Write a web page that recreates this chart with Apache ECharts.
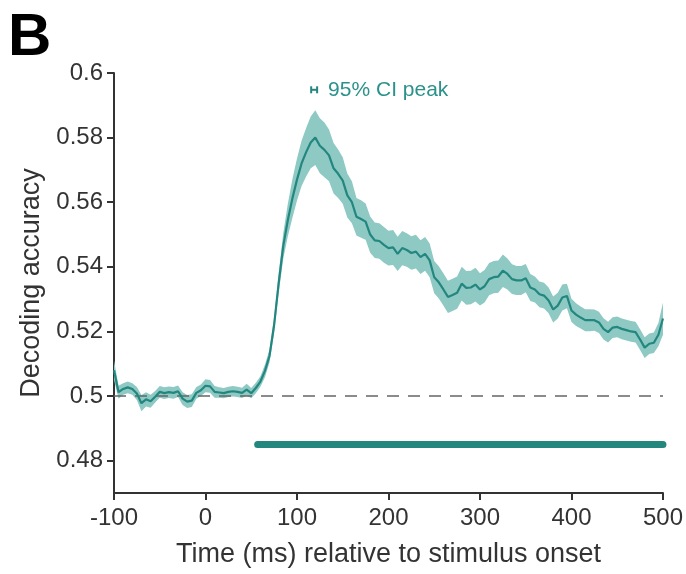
<!DOCTYPE html>
<html>
<head>
<meta charset="utf-8">
<script src="https://cdn.jsdelivr.net/npm/echarts@6/dist/echarts.min.js"></script>
<style>
  html, body { margin: 0; padding: 0; background: #fff; }
  #chart { width: 686px; height: 574px; }
</style>
</head>
<body>
<div id="chart"></div>
<script>
// time points (ms), 5 ms steps
const times = [
  -100, -95, -90, -85, -80, -75, -70, -65, -60, -55, -50, -45, -40, -35, -30, -25, -20, -15, -10, -5,
  0, 5, 10, 15, 20, 25, 30, 35, 40, 45, 50, 55, 60, 65, 70, 75, 80, 85, 90, 95,
  100, 105, 110, 115, 120, 125, 130, 135, 140, 145, 150, 155, 160, 165, 170, 175, 180, 185, 190, 195,
  200, 205, 210, 215, 220, 225, 230, 235, 240, 245, 250, 255, 260, 265, 270, 275, 280, 285, 290, 295,
  300, 305, 310, 315, 320, 325, 330, 335, 340, 345, 350, 355, 360, 365, 370, 375, 380, 385, 390, 395,
  400, 405, 410, 415, 420, 425, 430, 435, 440, 445, 450, 455, 460, 465, 470, 475, 480, 485, 490, 495,
  500
]

// mean decoding accuracy
const accuracy = [
  0.5080, 0.5012, 0.5022, 0.5027, 0.5022, 0.5008, 0.4978, 0.4990, 0.4984, 0.4998,
  0.5013, 0.5009, 0.5012, 0.5010, 0.5015, 0.4992, 0.4983, 0.4986, 0.5010, 0.5018,
  0.5032, 0.5030, 0.5013, 0.5011, 0.5009, 0.5013, 0.5015, 0.5013, 0.5010, 0.5020,
  0.5009, 0.5025, 0.5045, 0.5078, 0.5125, 0.5220, 0.5350, 0.5465, 0.5545, 0.5612,
  0.5670, 0.5720, 0.5755, 0.5785, 0.5800, 0.5775, 0.5762, 0.5745, 0.5705, 0.5688,
  0.5667, 0.5621, 0.5600, 0.5555, 0.5548, 0.5540, 0.5500, 0.5482, 0.5480, 0.5468,
  0.5458, 0.5460, 0.5440, 0.5458, 0.5452, 0.5443, 0.5447, 0.5430, 0.5440, 0.5420,
  0.5368, 0.5352, 0.5330, 0.5307, 0.5313, 0.5320, 0.5348, 0.5335, 0.5336, 0.5345,
  0.5330, 0.5340, 0.5362, 0.5368, 0.5370, 0.5388, 0.5378, 0.5362, 0.5358, 0.5358,
  0.5365, 0.5336, 0.5330, 0.5315, 0.5311, 0.5296, 0.5268, 0.5280, 0.5305, 0.5310,
  0.5265, 0.5252, 0.5243, 0.5235, 0.5235, 0.5235, 0.5228, 0.5208, 0.5198, 0.5212,
  0.5214, 0.5208, 0.5204, 0.5200, 0.5198, 0.5175, 0.5150, 0.5162, 0.5165, 0.5190,
  0.5240
]

// half width of the shaded interval
const ciHalf = [
  0.0030, 0.0020, 0.0018, 0.0018, 0.0018, 0.0020, 0.0025, 0.0022, 0.0020, 0.0018,
  0.0018, 0.0018, 0.0018, 0.0018, 0.0018, 0.0020, 0.0020, 0.0020, 0.0018, 0.0018,
  0.0020, 0.0020, 0.0018, 0.0016, 0.0016, 0.0016, 0.0016, 0.0016, 0.0016, 0.0018,
  0.0016, 0.0016, 0.0016, 0.0020, 0.0020, 0.0025, 0.0030, 0.0040, 0.0050, 0.0060,
  0.0065, 0.0070, 0.0075, 0.0080, 0.0085, 0.0085, 0.0085, 0.0080, 0.0078, 0.0075,
  0.0072, 0.0068, 0.0065, 0.0058, 0.0058, 0.0056, 0.0056, 0.0055, 0.0055, 0.0055,
  0.0054, 0.0054, 0.0053, 0.0053, 0.0052, 0.0052, 0.0052, 0.0052, 0.0052, 0.0052,
  0.0050, 0.0050, 0.0050, 0.0050, 0.0050, 0.0050, 0.0052, 0.0052, 0.0052, 0.0052,
  0.0050, 0.0050, 0.0050, 0.0050, 0.0050, 0.0050, 0.0048, 0.0046, 0.0045, 0.0045,
  0.0044, 0.0042, 0.0040, 0.0040, 0.0040, 0.0040, 0.0040, 0.0040, 0.0040, 0.0038,
  0.0036, 0.0035, 0.0034, 0.0034, 0.0034, 0.0033, 0.0033, 0.0033, 0.0032, 0.0032,
  0.0032, 0.0032, 0.0032, 0.0032, 0.0032, 0.0032, 0.0032, 0.0032, 0.0032, 0.0036,
  0.0050
]

const yTicks = [0.48, 0.5, 0.52, 0.54, 0.56, 0.58, 0.6]
const chanceLevel = 0.5
const sigWindow = [57, 500]
const sigLevel = 0.485
const peakCI = [115.5, 122]
const peakLevel = 0.5948

const teal = '#23877f'
const bandColor = '#8ec9c4'

const mean = times.map((t, i) => [t, accuracy[i]])

const chart = echarts.init(document.getElementById('chart'))
chart.setOption({
  animation: false,
  textStyle: { fontFamily: 'Liberation Sans, Arial, sans-serif' },
  grid: { left: 114, right: 19, top: 73, bottom: 81 },
  graphic: [{
    type: 'text',
    left: 8,
    top: 8,
    style: { text: 'B', font: 'bold 60px Liberation Sans, Arial, sans-serif', fill: '#000' }
  }],
  xAxis: {
    type: 'value',
    min: -100,
    max: 500,
    interval: 100,
    name: 'Time (ms) relative to stimulus onset',
    nameLocation: 'middle',
    nameGap: 48,
    nameTextStyle: { fontSize: 27, color: '#333' },
    axisLine: { onZero: false, lineStyle: { color: '#333', width: 2 } },
    axisTick: { length: 7, lineStyle: { color: '#333', width: 2 } },
    axisLabel: { fontSize: 24, color: '#333', margin: 13 },
    splitLine: { show: false }
  },
  yAxis: {
    type: 'value',
    min: 0.47,
    max: 0.6,
    name: 'Decoding accuracy',
    nameLocation: 'middle',
    nameGap: 64,
    nameTextStyle: { fontSize: 27, color: '#333' },
    axisLine: { show: true, onZero: false, lineStyle: { color: '#333', width: 2 } },
    axisTick: { show: true, length: 7, customValues: yTicks, lineStyle: { color: '#333', width: 2 } },
    axisLabel: {
      fontSize: 24, color: '#333', margin: 11,
      customValues: yTicks,
      formatter: v => String(parseFloat(v.toFixed(2)))
    },
    splitLine: { show: false }
  },
  series: [
    {
      // shaded interval: one polygon, upper edge then lower edge back
      type: 'custom',
      data: [0],
      silent: true,
      z: 1,
      renderItem: (params, api) => {
        const pts = []
        for (let i = 0; i < times.length; i++) {
          pts.push(api.coord([times[i], accuracy[i] + ciHalf[i]]))
        }
        for (let i = times.length - 1; i >= 0; i--) {
          pts.push(api.coord([times[i], accuracy[i] - ciHalf[i]]))
        }
        return {
          type: 'polygon',
          shape: { points: pts },
          style: { fill: bandColor }
        }
      }
    },
    {
      type: 'line',
      data: [[-100, chanceLevel], [500, chanceLevel]],
      showSymbol: false,
      lineStyle: { color: '#666', width: 1.5, type: [12, 9] },
      z: 2
    },
    {
      type: 'line',
      data: mean,
      showSymbol: false,
      lineStyle: { color: teal, width: 2.2 },
      z: 3
    },
    {
      type: 'line',
      data: [[sigWindow[0], sigLevel], [sigWindow[1], sigLevel]],
      showSymbol: false,
      lineStyle: { color: teal, width: 7, cap: 'round' },
      z: 3
    },
    {
      type: 'line',
      data: [
        [peakCI[0], peakLevel],
        {
          value: [peakCI[1], peakLevel],
          label: {
            show: true,
            position: 'right',
            distance: 10,
            formatter: '95% CI peak',
            fontSize: 21,
            color: '#2b928b'
          }
        }
      ],
      symbol: 'rect',
      symbolSize: [2, 7],
      showSymbol: true,
      itemStyle: { color: teal },
      lineStyle: { color: teal, width: 2 },
      z: 3
    }
  ]
})
</script>
</body>
</html>
